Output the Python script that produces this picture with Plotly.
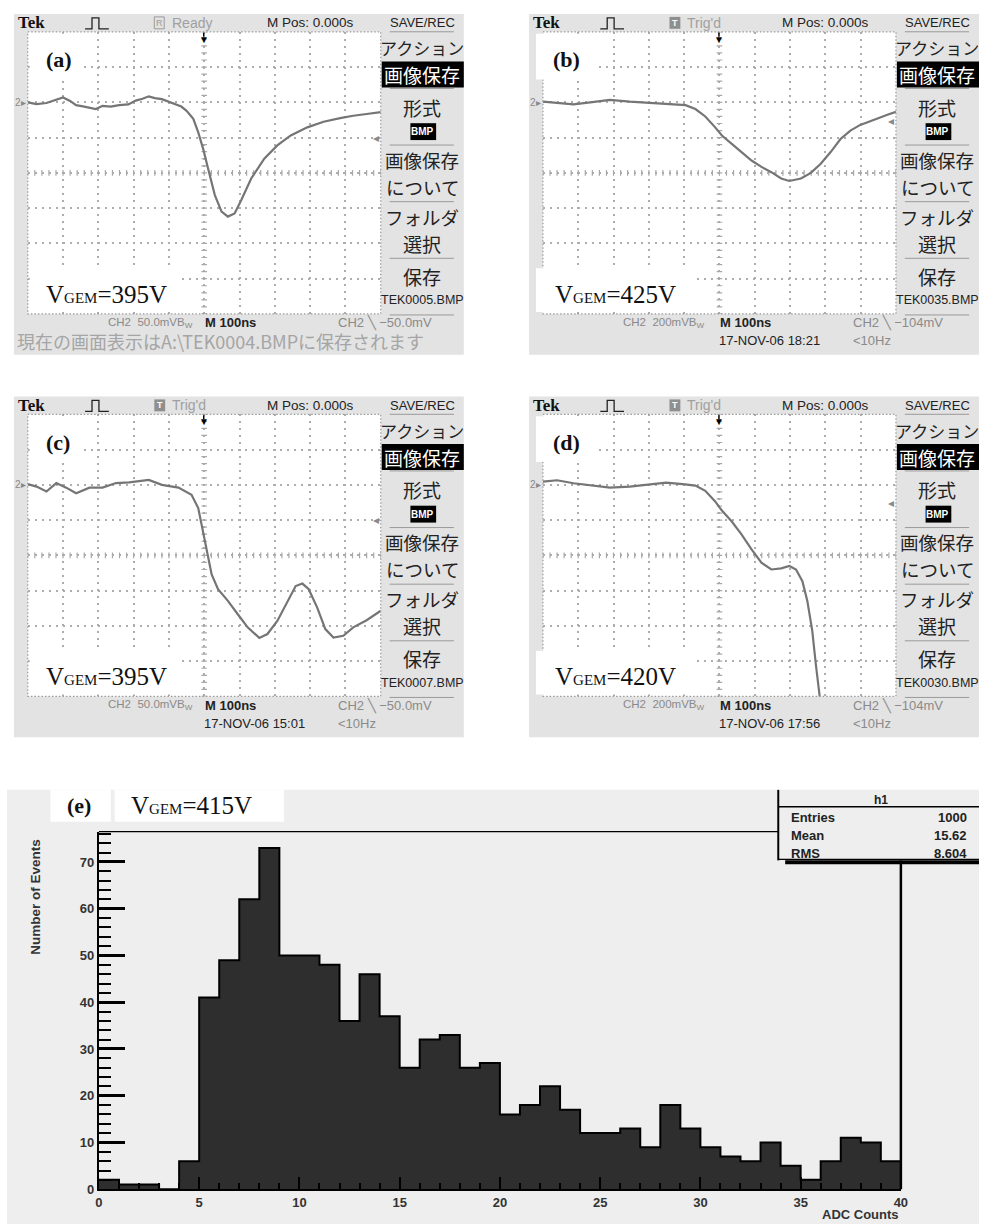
import plotly.graph_objects as go
import numpy as np

W, H = 986, 1232

# ---------------- data ----------------
# oscilloscope traces: time relative to trigger [ns], amplitude [mV]
a_time = [-500, -475, -447, -420, -400, -380, -363, -340, -307, -288, -265, -241, -215, -194, -175, -157, -140,
          -120, -100, -82, -65, -50, -31, -17, -3, 11, 30, 49, 67, 86, 105, 133, 170, 207, 245, 292, 338, 385,
          422, 460, 500]
a_mv = [0, -2.5, -1, 3, 7, 2, -4, -6, -9.5, -5, -6, -4, -3, 2.5, 5, 8.5, 6, 4.5, 1, -2.5, -6, -12, -23.5, -42.5,
        -66, -94, -131.5, -155, -162, -157.5, -138.5, -108, -80, -61, -47, -35.5, -27.5, -22.5, -19, -16.5, -14]

b_time = [-500, -460, -413, -366, -310, -254, -198, -142, -96, -68, -40, -12, 7, 35, 63, 91, 119, 147, 175, 198,
          231, 259, 287, 315, 343, 371, 399, 437, 474, 500]
b_mv = [4, -4, -12, 0, 14, 4, -4, -10, -16, -38, -80, -142, -188, -236, -282, -330, -366, -396, -432, -446, -432,
        -400, -348, -282, -208, -160, -128, -98, -72, -54]

c_time = [-500, -475, -447, -419, -391, -363, -325, -288, -250, -213, -157, -120, -73, -36, -17, -7, 7, 21, 39, 67,
          95, 123, 156, 179, 207, 236, 259, 278, 296, 320, 343, 366, 394, 422, 460, 500]
c_mv = [1, -2.5, -9.5, 2.5, -4, -12, -4, -4, 2.5, 3.5, 7, 0, -4, -14, -33, -56.5, -89.5, -127, -148, -164.5, -183.5,
        -202, -217, -211.5, -193, -164.5, -143.5, -140, -148, -174, -204.5, -216.5, -214, -202, -192, -178.5]

d_time = [-500, -460, -413, -366, -310, -254, -198, -151, -104, -68, -40, -12, 7, 35, 63, 91, 119, 147, 175, 198,
          217, 235, 249, 263, 273, 282, 290, 300]
d_mv = [18, 26, 9, -4, -16, -10, 0, 12, 4, -4, -34, -94, -146, -208, -282, -366, -442, -480, -474, -460, -480,
        -546, -658, -828, -1016, -1200, -1300, -1400]

panel_labels = ["(a)", "(b)", "(c)", "(d)"]
vgem_values = [395, 425, 395, 420]
status_texts = ["Ready", "Trig'd", "Trig'd", "Trig'd"]
mv_per_div = [50, 200, 50, 200]
vdiv_texts = ["50.0mV", "200mV", "50.0mV", "200mV"]
trig_levels = [-50, -104, -50, -104]
trig_texts = ["\u221250.0mV", "\u2212104mV", "\u221250.0mV", "\u2212104mV"]
file_names = ["TEK0005.BMP", "TEK0035.BMP", "TEK0007.BMP", "TEK0030.BMP"]
date_texts = [None, "17-NOV-06 18:21", "17-NOV-06 15:01", "17-NOV-06 17:56"]
menu_items = ["アクション", "画像保存", "形式", "BMP", "画像保存", "について", "フォルダ", "選択", "保存"]

# histogram (e)
adc_edges = list(range(0, 40))
adc_counts = [2, 1, 1, 0, 6, 41, 49, 62, 73, 50, 50, 48, 36, 46, 37, 26, 32, 33, 26, 27,
              16, 18, 22, 17, 12, 12, 13, 9, 18, 13, 9, 7, 6, 10, 5, 2, 6, 11, 10, 6]
hist_vgem = 415
stats_names = ["Entries", "Mean", "RMS"]
stats_values = ["1000", "15.62", "8.604"]

# ---------------- helpers ----------------
NARROW = "Liberation Sans Narrow, Liberation Sans, Arial"
SANS = "Liberation Sans, Arial"
SERIF = "Liberation Serif, Times New Roman"
CJK = "Noto Sans CJK JP"

fig = go.Figure()
shapes = []
anns = []


def px(x):
    return x / W


def py(y):
    return 1 - y / H


def rect(x0, y0, x1, y1, fill=None, line_color=None, width=0, dash=None, layer="below"):
    line = dict(width=width, color=line_color if line_color else "rgba(0,0,0,0)")
    if dash:
        line["dash"] = dash
    shapes.append(dict(type="rect", xref="paper", yref="paper", x0=px(x0), y0=py(y0), x1=px(x1), y1=py(y1),
                       fillcolor=fill if fill else "rgba(0,0,0,0)", line=line, layer=layer))


def hline(x0, x1, y, color="black", width=1, layer="above"):
    shapes.append(dict(type="line", xref="paper", yref="paper", x0=px(x0), x1=px(x1), y0=py(y), y1=py(y),
                       line=dict(color=color, width=width), layer=layer))


def vline(x, y0, y1, color="black", width=1, layer="above"):
    shapes.append(dict(type="line", xref="paper", yref="paper", x0=px(x), x1=px(x), y0=py(y0), y1=py(y1),
                       line=dict(color=color, width=width), layer=layer))


def text(t, x, y, size=12, color="#222", xanchor="left", family=NARROW, weight="normal", angle=0, pad=1):
    anns.append(dict(text=t, x=px(x), y=py(y), xref="paper", yref="paper", xanchor=xanchor, yanchor="middle",
                     showarrow=False, textangle=angle, borderpad=pad,
                     font=dict(size=size, color=color, family=family, weight=weight)))


# ---------------- oscilloscope panels ----------------
offsets = [(0, 0), (521, 0), (0, 385), (521, 385)]
label_dx = [40, 32, 40, 32]
vgem_dx = [40, 34, 40, 34]
box_dx = [26, 17, 26, 17]
series = [(a_time, a_mv), (b_time, b_mv), (c_time, c_mv), (d_time, d_mv)]
layout_axes = {}

for i in range(4):
    ox, oy = offsets[i]
    s = mv_per_div[i]
    n = i + 1
    xa = "x" if n == 1 else f"x{n}"
    ya = "y" if n == 1 else f"y{n}"
    gx0, gx1, gy0, gy1 = 24 + ox, 381 + ox, 32 + oy, 316 + oy

    # screen background and graticule
    rect(10 + ox, 14 + oy, 465 + ox, 357 + oy, fill="#e3e3e3")
    rect(gx0, gy0, gx1, gy1, fill="white")
    rect(gx0, gy0, gx1, gy1, line_color="#9a9a9a", width=1.2, dash="1.5px,2px", layer="above")

    axkey = "xaxis" if n == 1 else f"xaxis{n}"
    aykey = "yaxis" if n == 1 else f"yaxis{n}"
    grid = dict(showgrid=True, gridcolor="#adadad", griddash="2px,5px", gridwidth=1.5,
                showticklabels=False, ticks="", zeroline=False, showline=False, fixedrange=True)
    layout_axes[axkey] = dict(domain=[px(gx0), px(gx1)], range=[-500, 500], tick0=-500, dtick=100,
                              anchor=ya, **grid)
    layout_axes[aykey] = dict(domain=[py(gy1), py(gy0)], range=[-6 * s, 2 * s], tick0=0, dtick=s,
                              anchor=xa, **grid)

    # centre-line graduations
    xt = np.arange(-500, 501, 20)
    fig.add_trace(go.Scatter(x=xt, y=[-2 * s] * len(xt), mode="markers", xaxis=xa, yaxis=ya,
                             marker=dict(symbol="line-ns", size=4, line=dict(width=1.2, color="#a8a8a8")),
                             hoverinfo="skip", showlegend=False))
    yt = np.arange(-6 * s, 2 * s + 0.001, 0.2 * s)
    fig.add_trace(go.Scatter(x=[0] * len(yt), y=yt, mode="markers", xaxis=xa, yaxis=ya,
                             marker=dict(symbol="line-ew", size=4, line=dict(width=1.2, color="#a8a8a8")),
                             hoverinfo="skip", showlegend=False))

    # waveform
    t, v = series[i]
    fig.add_trace(go.Scatter(x=t, y=v, mode="lines", xaxis=xa, yaxis=ya,
                             line=dict(color="#757575", width=2.2), hoverinfo="skip", showlegend=False))

    # ground marker, trigger level, trigger position
    anns.append(dict(text="2\u25b8", x=-500, y=0, xref=xa, yref=ya, xanchor="right", yanchor="middle",
                     showarrow=False, font=dict(size=10, color="#8a8a8a", family=SANS)))
    anns.append(dict(text="\u25c2", x=500, y=trig_levels[i], xref=xa, yref=ya, xanchor="right",
                     yanchor="middle", showarrow=False, font=dict(size=12, color="#8a8a8a", family=SANS)))
    anns.append(dict(text="\u25bc", x=0, y=1, xref=xa, yref=ya + " domain", xanchor="center", yanchor="top",
                     showarrow=False, font=dict(size=10, color="black", family=SANS)))
    vline(202 + ox, gy0 + 1, gy0 + 5, color="black", width=1.5)

    # white label boxes
    rect(box_dx[i] + ox, 34 + oy, 80 + ox, 80 + oy, fill="white", layer="above")
    rect(box_dx[i] + ox, 270 + oy, 178 + ox, 314 + oy, fill="white", layer="above")
    text(f"<b>{panel_labels[i]}</b>", label_dx[i] + ox, 60 + oy, size=22, color="#111", family=SERIF)
    text(f"V<span style='font-size:15px'>GEM</span>={vgem_values[i]}V", vgem_dx[i] + ox, 296 + oy, size=25,
         color="#111", family=SERIF)

    # top status bar
    text("<b>Tek</b>", 12 + ox, 23 + oy, size=17, color="#111", family=SERIF)
    shapes.append(dict(type="path", xref="paper", yref="paper",
                       path=(f"M {px(82 + ox)},{py(29 + oy)} L {px(89 + ox)},{py(29 + oy)} "
                             f"L {px(89 + ox)},{py(18 + oy)} L {px(96 + ox)},{py(18 + oy)} "
                             f"L {px(96 + ox)},{py(29 + oy)} L {px(106 + ox)},{py(29 + oy)}"),
                       line=dict(color="#222", width=1.3), layer="above"))
    if status_texts[i] == "Ready":
        rect(152 + ox, 17 + oy, 162 + ox, 29 + oy, line_color="#9a9a9a", width=1, layer="above")
        text("R", 157 + ox, 23 + oy, size=9, color="#9a9a9a", xanchor="center", family=SANS)
    else:
        rect(152 + ox, 17 + oy, 163 + ox, 29 + oy, fill="#8f8f8f", layer="above")
        text("T", 157.5 + ox, 23 + oy, size=9, color="white", xanchor="center", family=SANS, weight="bold")
    text(status_texts[i], 168 + ox, 23 + oy, size=14, color="#a0a0a0")
    text("M Pos: 0.000s", 264 + ox, 23 + oy, size=13.5, color="#222")
    text("SAVE/REC", 423 + ox, 23 + oy, size=13, color="#222", xanchor="center")

    # side menu
    for yy in [32, 89, 146, 203, 260, 317]:
        hline(390 + ox, 455 + ox, yy + oy, color="#9a9a9a", width=1)
    rect(382 + ox, 62 + oy, 465 + ox, 88 + oy, fill="black", layer="above")
    rect(411 + ox, 124 + oy, 437 + ox, 141 + oy, fill="black", layer="above")
    menu_y = [48, 75, 108, 132.5, 161, 188, 218, 245, 278]
    menu_sz = [17, 19, 19, 10, 18.5, 18.5, 18.5, 19, 19]
    for k, item in enumerate(menu_items):
        col = "white" if k in (1, 3) else "#222"
        fam = SANS if item == "BMP" else CJK
        wt = "bold" if item == "BMP" else "normal"
        text(item, 423 + ox, menu_y[k] + oy, size=menu_sz[k], color=col, xanchor="center", family=fam,
             weight=wt, pad=0)
    text(file_names[i], 423 + ox, 302 + oy, size=12.5, color="#222", xanchor="center", pad=0)

    # bottom status rows
    text(f"CH2  {vdiv_texts[i]}B<sub>W</sub>", 104 + ox, 325 + oy, size=11.5, color="#8a8a8a", pad=0)
    text("<b>M 100ns</b>", 202 + ox, 325 + oy, size=13, color="#222", pad=0)
    text(f"CH2 \u2572 {trig_texts[i]}", 337 + ox, 325 + oy, size=13, color="#8a8a8a", pad=0)
    if date_texts[i] is None:
        text("現在の画面表示はA:\\TEK0004.BMPに保存されます", 12 + ox, 343 + oy, size=18, color="#a5a5a5",
             family=CJK, pad=0)
    else:
        text(date_texts[i], 201 + ox, 343 + oy, size=13, color="#222", pad=0)
        text("&lt;10Hz", 337 + ox, 343 + oy, size=13, color="#8a8a8a", pad=0)

# ---------------- histogram (e) ----------------
rect(3, 795, 986, 1232, fill="#eeeeee")
rect(47, 795, 108, 827, fill="white")
rect(112, 795, 283, 827, fill="white")
text("<b>(e)</b>", 76, 811, size=22, color="#111", xanchor="center", family=SERIF)
text(f"V<span style='font-size:15px'>GEM</span>={hist_vgem}V", 126, 811, size=25, color="#111", family=SERIF)

bin_centers = [e + 0.5 for e in adc_edges]
fig.add_trace(go.Bar(x=bin_centers, y=adc_counts, width=1, xaxis="x5", yaxis="y5",
                     marker=dict(color="#2e2e2e", line=dict(width=0)), hoverinfo="skip", showlegend=False))
step_x = adc_edges + [adc_edges[-1] + 1]
step_y = adc_counts + [adc_counts[-1]]
fig.add_trace(go.Scatter(x=step_x, y=step_y, mode="lines", line=dict(shape="hv", color="black", width=2),
                         xaxis="x5", yaxis="y5", hoverinfo="skip", showlegend=False))

tickfont = dict(family=SANS, size=13, color="#333", weight="bold")
layout_axes["xaxis5"] = dict(domain=[px(96), px(907)], range=[0, 40], tick0=0, dtick=5, anchor="y5",
                             ticks="inside", ticklen=12, tickwidth=2, tickcolor="black",
                             minor=dict(dtick=1, ticks="inside", ticklen=6, tickwidth=1.5, tickcolor="black"),
                             showline=True, linecolor="black", linewidth=2, showgrid=False, zeroline=False,
                             tickfont=tickfont, fixedrange=True)
layout_axes["yaxis5"] = dict(domain=[py(1197), py(837)], range=[0, 76.5], tick0=0, dtick=10, anchor="x5",
                             ticks="inside", ticklen=26, tickwidth=2.5, tickcolor="black",
                             minor=dict(dtick=2, ticks="inside", ticklen=12, tickwidth=2, tickcolor="black"),
                             showline=True, linecolor="black", linewidth=2, showgrid=False, zeroline=False,
                             tickfont=tickfont, fixedrange=True)

hline(96, 783, 837, color="black", width=1.2)
vline(907, 866, 1197, color="black", width=2.5)
# stats box
vline(783, 795, 866, color="black", width=2)
hline(783, 986, 812, color="black", width=1.5)
hline(783, 986, 865, color="black", width=1.2)
hline(790, 986, 868, color="black", width=4)
text("<b>h1</b>", 887, 805, size=12, color="#222", xanchor="center", family=SANS, pad=0)
for k, (nm, val) in enumerate(zip(stats_names, stats_values)):
    text(f"<b>{nm}</b>", 795, 823 + 18 * k, size=13, color="#222", family=SANS, pad=0)
    text(f"<b>{val}</b>", 975, 823 + 18 * k, size=13, color="#222", xanchor="right", family=SANS, pad=0)

text("<b>Number of Events</b>", 31, 903, size=13.5, color="#333", xanchor="center", family=SANS, angle=-90)
text("<b>ADC Counts</b>", 907, 1222, size=13, color="#333", xanchor="right", family=SANS)

fig.update_layout(width=W, height=H, margin=dict(l=0, r=0, t=0, b=0), paper_bgcolor="white",
                  plot_bgcolor="rgba(0,0,0,0)", shapes=shapes, annotations=anns, showlegend=False,
                  bargap=0, **layout_axes)
fig.write_html("out.html", config={"responsive": False, "displayModeBar": False},
               post_script="document.body.style.margin='0';document.body.style.overflow='hidden';")
